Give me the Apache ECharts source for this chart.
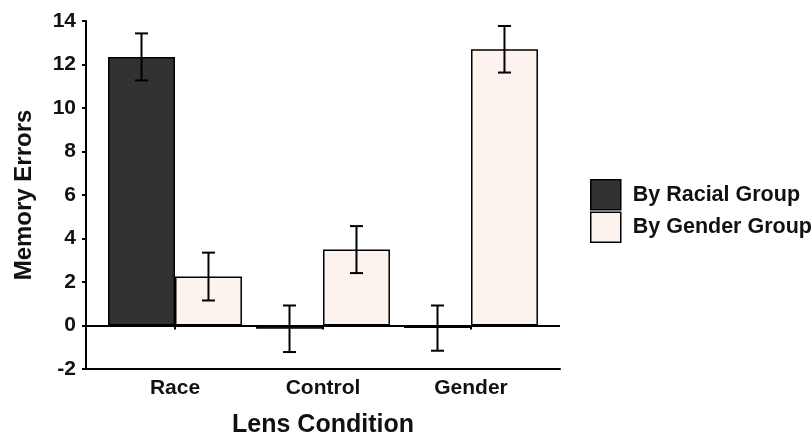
<!DOCTYPE html>
<html>
<head>
<meta charset="utf-8">
<script src="https://cdn.jsdelivr.net/npm/echarts@6/dist/echarts.min.js"></script>
<style>
    html, body { margin: 0; padding: 0; background: #fff; }
    #chart { width: 812px; height: 438px; }
</style>
</head>
<body>
<div id="chart"></div>
<script>
const categories = ['Race', 'Control', 'Gender'];
const racialMeans = [12.35, -0.15, -0.12];
const racialErrors = [1.08, 1.07, 1.04];
const genderMeans = [2.25, 3.49, 12.7];
const genderErrors = [1.1, 1.08, 1.07];
const yTicks = [-2, 0, 2, 4, 6, 8, 10, 12, 14];

const FONT = "'Liberation Sans', Arial, sans-serif";
const CAT_GAP = 0.095;

const chart = echarts.init(document.getElementById('chart'));

// error bar drawn through the category/value scales, side -1 = left bar, 1 = right bar
const errorBar = (side) => (params, api) => {
    const cat = api.value(0);
    const mean = api.value(1);
    const err = api.value(2);
    const band = api.size([1, 0])[0];
    const off = side * band * (1 - CAT_GAP) / 4;
    const hi = api.coord([cat, mean + err]);
    const lo = api.coord([cat, mean - err]);
    const x = hi[0] + off;
    const cap = 6.5;
    const style = { stroke: '#000', lineWidth: 2 };
    return {
        type: 'group',
        children: [
            { type: 'line', shape: { x1: x, y1: hi[1], x2: x, y2: lo[1] }, style },
            { type: 'line', shape: { x1: x - cap, y1: hi[1], x2: x + cap, y2: hi[1] }, style },
            { type: 'line', shape: { x1: x - cap, y1: lo[1], x2: x + cap, y2: lo[1] }, style }
        ]
    };
};

// only the line at 0 is visible
const splitColors = yTicks.map(v => (v === 0 ? '#000' : 'rgba(0,0,0,0)'));

const option = {
    animation: false,
    backgroundColor: '#fff',
    textStyle: { fontFamily: FONT },
    grid: [
        { left: 86, top: 21, width: 474, height: 348, outerBoundsMode: 'none', containLabel: false },
        { left: 101, top: 21, width: 444, height: 348, outerBoundsMode: 'none', containLabel: false }
    ],
    legend: {
        orient: 'vertical',
        left: 590,
        top: 179,
        padding: 0,
        itemWidth: 30,
        itemHeight: 30,
        itemGap: 1,
        icon: 'rect',
        itemStyle: { borderColor: '#000', borderWidth: 1.5 },
        textStyle: { fontSize: 21.5, fontWeight: 'bold', color: '#111', fontFamily: FONT, padding: [0, 0, 0, 7] },
        data: ['By Racial Group', 'By Gender Group']
    },
    xAxis: [
        {
            type: 'value', gridIndex: 0, min: 0, max: 1,
            axisLine: { show: true, onZero: false, lineStyle: { color: '#000', width: 2 } },
            axisTick: { show: false },
            axisLabel: { show: false },
            splitLine: { show: false }
        },
        {
            type: 'category', gridIndex: 1, data: categories,
            axisLine: { show: false },
            axisTick: { show: true, alignWithLabel: true, length: 4, lineStyle: { color: '#000', width: 2 } },
            axisLabel: { fontSize: 21, fontWeight: 'bold', color: '#111', margin: 9, fontFamily: FONT },
            name: 'Lens Condition',
            nameLocation: 'middle',
            nameGap: 44,
            nameTextStyle: { fontSize: 25, fontWeight: 'bold', color: '#111', fontFamily: FONT }
        }
    ],
    yAxis: [
        {
            type: 'value', gridIndex: 0, min: -2, max: 14, interval: 2,
            axisLine: { show: true, lineStyle: { color: '#000', width: 2 } },
            axisTick: { show: true, length: 4, lineStyle: { color: '#000', width: 2 } },
            axisLabel: { fontSize: 21, fontWeight: 'bold', color: '#111', margin: 10, fontFamily: FONT },
            splitLine: { show: true, lineStyle: { color: splitColors, width: 2 } },
            name: 'Memory Errors',
            nameLocation: 'middle',
            nameGap: 50,
            nameTextStyle: { fontSize: 24, fontWeight: 'bold', color: '#111', fontFamily: FONT }
        },
        {
            type: 'value', gridIndex: 1, min: -2, max: 14, interval: 2, show: false
        }
    ],
    series: [
        {
            name: 'By Racial Group',
            type: 'bar',
            xAxisIndex: 1, yAxisIndex: 1,
            barGap: 0,
            barCategoryGap: (CAT_GAP * 100) + '%',
            itemStyle: { color: '#323232', borderColor: '#000', borderWidth: 1.5 },
            data: racialMeans
        },
        {
            name: 'By Gender Group',
            type: 'bar',
            xAxisIndex: 1, yAxisIndex: 1,
            barGap: 0,
            barCategoryGap: (CAT_GAP * 100) + '%',
            itemStyle: { color: '#fdf3ee', borderColor: '#000', borderWidth: 1.5 },
            data: genderMeans
        },
        {
            type: 'custom',
            xAxisIndex: 1, yAxisIndex: 1,
            renderItem: errorBar(-1),
            encode: { x: 0, y: 1 },
            z: 5,
            data: racialMeans.map((m, i) => [i, m, racialErrors[i]])
        },
        {
            type: 'custom',
            xAxisIndex: 1, yAxisIndex: 1,
            renderItem: errorBar(1),
            encode: { x: 0, y: 1 },
            z: 5,
            data: genderMeans.map((m, i) => [i, m, genderErrors[i]])
        }
    ]
};

chart.setOption(option);
window.addEventListener('resize', () => chart.resize());
</script>
</body>
</html>
